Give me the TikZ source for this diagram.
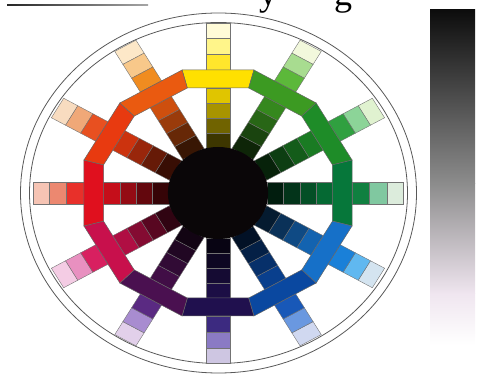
\documentclass[tikz,border=0pt]{standalone}
\usepackage{fontspec}
\setmainfont{Liberation Serif}
\usetikzlibrary{calc}

% --- ring colours (name) and outer tints (name1 .. name3) ---
\definecolor{yel}{HTML}{FFE000}\definecolor{yel1}{HTML}{FFE62C}\definecolor{yel2}{HTML}{FFF58A}\definecolor{yel3}{HTML}{FFFBD8}
\definecolor{ygr}{HTML}{3C9A22}\definecolor{ygr1}{HTML}{5CB83A}\definecolor{ygr2}{HTML}{A8DC90}\definecolor{ygr3}{HTML}{F2F8DC}
\definecolor{grn}{HTML}{1E8C28}\definecolor{grn1}{HTML}{30A040}\definecolor{grn2}{HTML}{8CD498}\definecolor{grn3}{HTML}{E0F2D0}
\definecolor{bgr}{HTML}{06773A}\definecolor{bgr1}{HTML}{108040}\definecolor{bgr2}{HTML}{80C8A0}\definecolor{bgr3}{HTML}{DCECDC}
\definecolor{blu}{HTML}{1670C8}\definecolor{blu1}{HTML}{1A80D8}\definecolor{blu2}{HTML}{60B8F0}\definecolor{blu3}{HTML}{D4E4F0}
\definecolor{dbl}{HTML}{0A48A0}\definecolor{dbl1}{HTML}{1858B8}\definecolor{dbl2}{HTML}{6A98E0}\definecolor{dbl3}{HTML}{D0D8F0}
\definecolor{ind}{HTML}{20104E}\definecolor{ind1}{HTML}{3C2A80}\definecolor{ind2}{HTML}{8A7AC4}\definecolor{ind3}{HTML}{CEC6E2}
\definecolor{pur}{HTML}{4A1050}\definecolor{pur1}{HTML}{5A2A82}\definecolor{pur2}{HTML}{A88CD0}\definecolor{pur3}{HTML}{E2D0EA}
\definecolor{crm}{HTML}{C8104C}\definecolor{crm1}{HTML}{D82060}\definecolor{crm2}{HTML}{E890C0}\definecolor{crm3}{HTML}{F4CCE4}
\definecolor{red}{HTML}{E0101E}\definecolor{red1}{HTML}{E8302A}\definecolor{red2}{HTML}{EC8870}\definecolor{red3}{HTML}{F6C4B4}
\definecolor{ror}{HTML}{E83A10}\definecolor{ror1}{HTML}{E85020}\definecolor{ror2}{HTML}{F0A878}\definecolor{ror3}{HTML}{F8DCC0}
\definecolor{ora}{HTML}{EA5A10}\definecolor{ora1}{HTML}{F08C20}\definecolor{ora2}{HTML}{F8C88A}\definecolor{ora3}{HTML}{FDE8C8}
\definecolor{core}{HTML}{0A0608}

\begin{document}
\begin{tikzpicture}[x=1pt, y=1pt,
  cell/.style={draw=black!55, line width=0.4pt},
  ringseg/.style={draw=black!60, line width=0.5pt},
  rim/.style={draw=black!65, line width=0.8pt}]

\useasboundingbox (0,0) rectangle (478,374);
\clip (0,0) rectangle (478,374);

\pgfmathsetmacro{\cx}{218}
\pgfmathsetmacro{\cy}{181}
\pgfmathsetmacro{\hw}{11.25}   % half width of a spoke
\pgfmathsetmacro{\rin}{105}    % inner apothem of the ring
\pgfmathsetmacro{\rout}{123}   % outer apothem of the ring

% --- cut-off caption and rule at the top ---
\shade[left color=black!85, right color=black!35] (7,368.4) rectangle (148,369.6);
\node[anchor=base, inner sep=0, font=\fontsize{36}{40}\selectfont] (lety) at (268,368.8) {y};
\node[anchor=base, inner sep=0, font=\fontsize{36}{40}\selectfont] (letg) at (343,368.8) {g};

% --- grey scale bar ---
\shade[top color=black!95, bottom color=black!45] (430,364) rectangle (475,190);
\shade[top color=black!45, bottom color=black!22!violet!10] (430,190.2) rectangle (475,80);
\shade[top color=black!22!violet!10, bottom color=white] (430,80.2) rectangle (475,29);

% --- outer rim ---
\draw[rim] (\cx+0.5,\cy) ellipse [x radius=198, y radius=180];
\draw[rim] (\cx+0.5,\cy) ellipse [x radius=189, y radius=170.5];

\begin{scope}[shift={(\cx,\cy)}, xscale=1.09]

% --- spokes: tints outside the ring, shades inside ---
\foreach \a/\hue in {90/yel, 60/ygr, 30/grn, 0/bgr, -30/blu, -60/dbl,
                     -90/ind, -120/pur, -150/crm, 180/red, 150/ror, 120/ora} {
  \begin{scope}[rotate=\a]
    \draw[cell, fill=\hue3] (155,-\hw) rectangle (170,\hw);
    \draw[cell, fill=\hue2] (139,-\hw) rectangle (155,\hw);
    \draw[cell, fill=\hue1] (123,-\hw) rectangle (139,\hw);
    \draw[cell, fill=\hue!88!black] (90,-\hw) rectangle (105,\hw);
    \draw[cell, fill=\hue!66!black] (75,-\hw) rectangle (90,\hw);
    \draw[cell, fill=\hue!44!black] (60,-\hw) rectangle (75,\hw);
    \draw[cell, fill=\hue!24!black] (45,-\hw) rectangle (60,\hw);
    \fill[core] (30,-\hw) rectangle (45,\hw);
  \end{scope}
}

% --- dodecagon ring ---
\foreach \a/\hue in {90/yel, 60/ygr, 30/grn, 0/bgr, -30/blu, -60/dbl,
                     -90/ind, -120/pur, -150/crm, 180/red, 150/ror, 120/ora} {
  \draw[ringseg, fill=\hue, rotate=\a]
    (\rin,{-\rin*tan(15)}) -- (\rout,{-\rout*tan(15)})
    -- (\rout,{\rout*tan(15)}) -- (\rin,{\rin*tan(15)}) -- cycle;
}

% --- black core ---
\fill[core] (0,0) circle [radius=46];

\end{scope}

\end{tikzpicture}
\end{document}
